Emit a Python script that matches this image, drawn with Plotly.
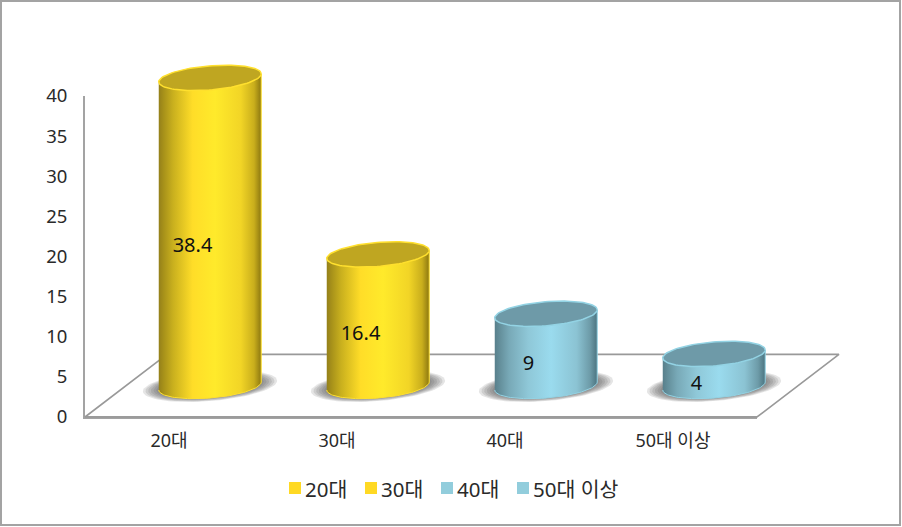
import numpy as np
import plotly.graph_objects as go

categories = ["20대", "30대", "40대", "50대 이상"]
values = [38.4, 16.4, 9, 4]
value_labels = ["38.4", "16.4", "9", "4"]
y_ticks = [0, 5, 10, 15, 20, 25, 30, 35, 40]

W, H = 902, 527
FONT = "Noto Sans, Noto Sans CJK KR"
GRAY = "#a3a3a3"
TEXT = "#2a2a2a"

# pixel position of the axes inside the picture
X0_PX, X1_PX = 85, 757
Y0_PX, Y40_PX = 417, 96
PX_X = (X1_PX - X0_PX) / 4
PX_Y = (Y0_PX - Y40_PX) / 40

# 3d look, in axis units
DEPTH_X = 0.488
DEPTH_Y = 7.8
BAR_DX = 0.244
BAR_BASE = 3.86
HALF_W = 0.305
ELL_H = 1.5
SKEW = 0.5

yellow = dict(
    scale=[[0, "#94801a"], [0.05, "#a8921a"], [0.14, "#c9b01e"], [0.33, "#ffdd28"],
           [0.55, "#ffea2b"], [0.8, "#f2d526"], [0.93, "#c9ae1c"], [1, "#8c7710"]],
    top="#bfa621", edge="#ffe02e", swatch="#ffd924",
)
blue = dict(
    scale=[[0, "#587f8b"], [0.05, "#648f9b"], [0.14, "#78a9b7"], [0.33, "#8fc8d8"],
           [0.55, "#9adbee"], [0.8, "#8bc3d3"], [0.93, "#6d9ba8"], [1, "#4b7480"]],
    top="#6e9aa8", edge="#93d3e4", swatch="#92cddc",
)
styles = [yellow, yellow, blue, blue]

fig = go.Figure()


def ellipse(cx, cy, a, b, t):
    return cx + a * np.cos(t), cy + SKEW * (a / HALF_W) * np.cos(t) + b * np.sin(t)


# front floor edge, keeps the visible axes alive
fig.add_trace(go.Scatter(x=[-0.5, 3.5], y=[0, 0], mode="lines", line=dict(color=GRAY, width=2),
                         showlegend=False, hoverinfo="skip"))

# the cylinders stick out of the axes box, so they sit on full page axes
overlay = dict(xaxis="x2", yaxis="y2", showlegend=False, hoverinfo="skip")

floor_x = [-0.5 + DEPTH_X, 3.5 + DEPTH_X, 3.5, -0.5, -0.5 + DEPTH_X]
floor_y = [DEPTH_Y, DEPTH_Y, 0, 0, DEPTH_Y]
fig.add_trace(go.Scatter(x=floor_x, y=floor_y, mode="lines", line=dict(color="#999999", width=1.6), **overlay))

for i, (val, st) in enumerate(zip(values, styles)):
    cx = i + BAR_DX
    top = BAR_BASE + val

    # soft shadow under the cylinder
    for s in np.linspace(1.0, 0.72, 8):
        sx, sy = ellipse(cx, BAR_BASE, HALF_W * 1.31 * s, ELL_H * 1.25 * s, np.linspace(0, 2 * np.pi, 80))
        fig.add_trace(go.Scatter(x=sx, y=sy, mode="lines", line=dict(width=0), fill="toself",
                                 fillcolor="rgba(70,70,70,0.14)", **overlay))

    # body
    bx, by = ellipse(cx, BAR_BASE, HALF_W, ELL_H, np.linspace(np.pi, 2 * np.pi, 60))
    tx, ty = ellipse(cx, top, HALF_W, ELL_H, np.array([0, np.pi]))
    body_x = np.concatenate([bx, tx])
    body_y = np.concatenate([by, ty])
    fig.add_trace(go.Scatter(
        x=body_x, y=body_y, mode="lines", line=dict(color=st["edge"], width=1), fill="toself",
        fillgradient=dict(type="horizontal", colorscale=st["scale"], start=cx - HALF_W, stop=cx + HALF_W),
        **overlay))

    # top face
    ex, ey = ellipse(cx, top, HALF_W, ELL_H, np.linspace(0, 2 * np.pi, 100))
    fig.add_trace(go.Scatter(x=ex, y=ey, mode="lines", line=dict(color=st["edge"], width=1.5),
                             fill="toself", fillcolor=st["top"], **overlay))

# value labels
fig.add_trace(go.Scatter(
    x=[i + BAR_DX - 0.104 for i in range(len(values))],
    y=[BAR_BASE + v / 2 - 1.9 for v in values],
    mode="text", text=value_labels, textposition="middle center",
    textfont=dict(family=FONT, size=20, color="#111111"), **overlay))

# legend row
legend_left = [289, 365, 441, 517]
shapes = [dict(type="rect", xref="paper", yref="paper", x0=1 / W, x1=900 / W, y0=1 - 525 / H, y1=1 - 1 / H,
               line=dict(color=GRAY, width=2), layer="below")]
annotations = []
for name, st, lx in zip(categories, styles, legend_left):
    shapes.append(dict(type="rect", xref="paper", yref="paper", x0=lx / W, x1=(lx + 12) / W,
                       y0=1 - 494 / H, y1=1 - 482 / H, fillcolor=st["swatch"], line=dict(width=0)))
    annotations.append(dict(xref="paper", yref="paper", x=(lx + 14) / W, y=1 - 489 / H, text=name,
                            showarrow=False, xanchor="left", yanchor="middle",
                            font=dict(family=FONT, size=20.5, color=TEXT)))

fig.update_layout(
    width=W, height=H, margin=dict(l=0, r=0, t=0, b=0),
    paper_bgcolor="white", plot_bgcolor="rgba(0,0,0,0)", showlegend=False,
    font=dict(family=FONT, color=TEXT),
    shapes=shapes, annotations=annotations,
    xaxis=dict(domain=[X0_PX / W, X1_PX / W], range=[-0.5, 3.5], tickmode="array", automargin=False,
               tickvals=list(range(len(categories))), ticktext=categories, showgrid=False,
               zeroline=False, showline=True, linecolor=GRAY, linewidth=2, ticks="",
               ticklabelstandoff=6, tickfont=dict(family=FONT, size=18, color=TEXT)),
    yaxis=dict(domain=[(H - Y0_PX) / H, (H - Y40_PX) / H], range=[0, 40], tickmode="array", automargin=False,
               tickvals=y_ticks, showgrid=False, zeroline=False, showline=True, linecolor=GRAY,
               linewidth=2, ticks="", ticklabelstandoff=12,
               tickfont=dict(family=FONT, size=18.5, color=TEXT)),
    xaxis2=dict(domain=[0, 1], range=[-0.5 - X0_PX / PX_X, -0.5 + (W - X0_PX) / PX_X], visible=False, automargin=False),
    yaxis2=dict(domain=[0, 1], range=[-(H - Y0_PX) / PX_Y, Y0_PX / PX_Y], visible=False, automargin=False),
)

fig.write_html("out.html", config=dict(displayModeBar=False),
               post_script="document.body.style.margin='0';document.body.style.overflow='hidden';")
